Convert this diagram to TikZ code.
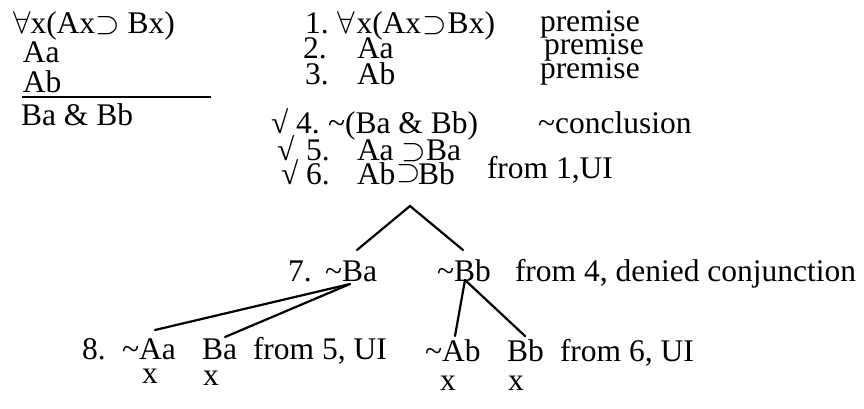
\RequirePackage{fix-cm}
\documentclass[tikz,border=0pt]{standalone}
\usepackage{fontspec}
\setmainfont{Liberation Serif}
\newcommand{\myforall}{$\forall$}
\newcommand{\mysup}{$\supset$}
\newcommand{\tld}{\textasciitilde}
\newcommand{\chk}{\char"221A\relax}
\begin{document}
\begin{tikzpicture}[x=1pt,y=-1pt,
  txt/.style={anchor=base west, inner sep=0pt, outer sep=0pt, font=\fontsize{31.5}{31.5}\selectfont},
  branch/.style={line width=2.2pt, line cap=round}]
\useasboundingbox (0,0) rectangle (864,408);
% left argument
\node[txt] (a1) at (13,33) {\myforall x(Ax\mysup\ Bx)};
\node[txt] (a2) at (23,62) {Aa};
\node[txt] (a3) at (23,92) {Ab};
\coordinate (ulA) at (22,97);
\coordinate (ulB) at (211,97);
\draw[line width=2.5pt] (ulA) -- (ulB);
\node[txt] (a4) at (21,125) {Ba \& Bb};
% tree lines 1-3
\node[txt] (n1) at (305,33) {1.};
\node[txt] (f1) at (337,33) {\myforall\hspace{2pt}x(Ax\hspace{1pt}\mysup\hspace{1pt}Bx)};
\node[txt] (r1) at (540,31) {premise};
\node[txt] (n2) at (303,58) {2.};
\node[txt] (f2) at (357,58) {Aa};
\node[txt] (r2) at (544,54) {premise};
\node[txt] (n3) at (305,84) {3.};
\node[txt] (f3) at (357,84) {Ab};
\node[txt] (r3) at (540,78) {premise};
% 4
\node[txt] (c4) at (271,133) {\chk};
\node[txt] (n4) at (296,133) {4.};
\node[txt] (f4) at (328,133) {\tld(Ba \& Bb)};
\node[txt] (r4) at (538,133) {\tld conclusion};
% 5, 6
\node[txt] (c5) at (277,160) {\chk};
\node[txt] (n5) at (306,160) {5.};
\node[txt] (f5) at (357,160) {Aa \mysup Ba};
\node[txt] (c6) at (281,184) {\chk};
\node[txt] (n6) at (306,184) {6.};
\node[txt] (f6) at (357,184) {Ab};
\node[txt] (s6) at (396,181) {\mysup};
\node[txt] (g6) at (418,184) {Bb};
\node[txt] (r56) at (487,178) {from 1,UI};
% first split
\coordinate (top) at (410,206);
\coordinate (lend) at (357,250);
\coordinate (rend) at (463,250);
\draw[branch] (lend) -- (top) -- (rend);
% 7
\node[txt] (n7) at (288,281) {7.};
\node[txt] (f7a) at (325,281) {\tld Ba};
\node[txt] (f7b) at (437,281) {\tld Bb};
\node[txt] (r7) at (515,281) {from 4, denied conjunction};
\coordinate (ba) at (350,284);
\coordinate (bb) at (465,280);
% 8
\node[txt] (n8) at (82,359) {8.};
\node[txt] (f8a) at (122,359) {\tld Aa};
\node[txt] (f8b) at (202,359) {Ba};
\node[txt] (r8a) at (253,359) {from 5, UI};
\node[txt] (f8c) at (425,361) {\tld Ab};
\node[txt] (f8d) at (507,361) {Bb};
\node[txt] (r8b) at (560,361) {from 6, UI};
\coordinate (t8a) at (155,330);
\coordinate (t8b) at (225,337);
\coordinate (t8c) at (455,336);
\coordinate (t8d) at (525,336);
\draw[branch] (ba) -- (t8a);
\draw[branch] (ba) -- (t8b);
\draw[branch] (bb) -- (t8c);
\draw[branch] (bb) -- (t8d);
% closures
\node[txt] (x1) at (142,383) {x};
\node[txt] (x2) at (203,385) {x};
\node[txt] (x3) at (440,390) {x};
\node[txt] (x4) at (508,390) {x};
\end{tikzpicture}
\end{document}
